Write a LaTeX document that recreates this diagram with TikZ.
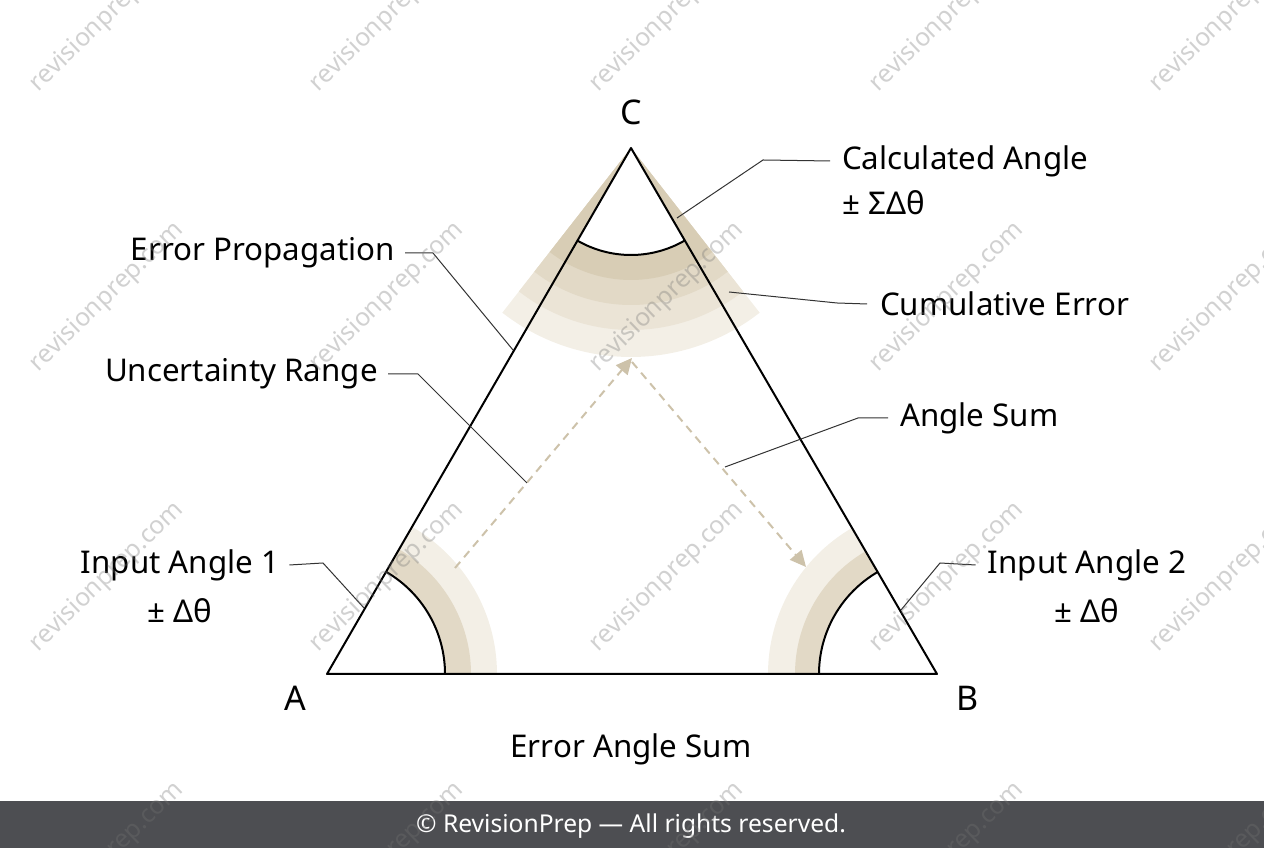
\documentclass[tikz,border=0pt]{standalone}
\usepackage{xcolor}
\usepackage{fontspec}
\setmainfont{Noto Sans}
\usetikzlibrary{shapes,arrows.meta,positioning}

\definecolor{bandA}{HTML}{F3EFE6}
\definecolor{bandB}{HTML}{EBE4D6}
\definecolor{bandC}{HTML}{E2D9C6}
\definecolor{bandD}{HTML}{D8CDB5}
\definecolor{dashtan}{HTML}{CDC2AA}
\definecolor{footgray}{HTML}{4D4E52}

\begin{document}
\begin{tikzpicture}[
    x=1pt, y=1pt,
    lbl/.style={font=\fontsize{31.3}{36}\selectfont, inner sep=0pt},
    vertex/.style={font=\fontsize{34}{40}\selectfont, inner sep=0pt},
    leader/.style={draw=black!80, line width=1pt},
    side/.style={draw=black, line width=2pt, line join=round},
    flow/.style={draw=dashtan, line width=2pt, dash pattern=on 8pt off 6pt, -{Triangle[length=16pt,width=15pt,fill=dashtan]}},
    wmark/.style={font=\fontsize{25}{30}\selectfont, text=gray!90!black, opacity=0.33, rotate=44}
]
    \useasboundingbox (0,0) rectangle (1264,848);

    % Corners
    \coordinate (A) at (327,174);
    \coordinate (B) at (937,174);
    \coordinate (C) at (631,700);

    % Cumulative error fan at C
    \fill[bandA] (C) -- ++(232:209pt) arc[start angle=232, end angle=308, radius=209pt] -- cycle;
    \fill[bandB] (C) -- ++(232:182pt) arc[start angle=232, end angle=308, radius=182pt] -- cycle;
    \fill[bandC] (C) -- ++(232:157pt) arc[start angle=232, end angle=308, radius=157pt] -- cycle;
    \fill[bandD] (C) -- ++(232:132pt) arc[start angle=232, end angle=308, radius=132pt] -- cycle;
    \fill[white] (C) -- ++(240:107pt) arc[start angle=240, end angle=300, radius=107pt] -- cycle;
    \draw[side] (C) ++(240:107pt) arc[start angle=240, end angle=300, radius=107pt];

    % Input angle bands at A and B
    \fill[bandA] (A) -- ++(0:170pt) arc[start angle=0, end angle=60, radius=170pt] -- cycle;
    \fill[bandC] (A) -- ++(0:144pt) arc[start angle=0, end angle=60, radius=144pt] -- cycle;
    \fill[white] (A) -- ++(0:118pt) arc[start angle=0, end angle=60, radius=118pt] -- cycle;
    \draw[side] (A) ++(0:118pt) arc[start angle=0, end angle=60, radius=118pt];
    \fill[bandA] (B) -- ++(120:169pt) arc[start angle=120, end angle=180, radius=169pt] -- cycle;
    \fill[bandC] (B) -- ++(120:142pt) arc[start angle=120, end angle=180, radius=142pt] -- cycle;
    \fill[white] (B) -- ++(120:118pt) arc[start angle=120, end angle=180, radius=118pt] -- cycle;
    \draw[side] (B) ++(120:118pt) arc[start angle=120, end angle=180, radius=118pt];

    % Triangle
    \draw[side] (A) -- (B) -- (C) -- cycle;

    % Flow arrows
    \coordinate (flowA) at (455,280);
    \coordinate (flowC) at (632,490);
    \coordinate (flowB) at (806,281);
    \draw[flow] (flowA) -- (flowC);
    \draw[flow] ([yshift=-4pt]flowC) -- (flowB);

    % Vertex labels
    \node[vertex] (labC) at (631,736) {C};
    \node[vertex] (labA) at (295,150) {A};
    \node[vertex] (labB) at (968,150) {B};
    \node[lbl] (errsum) at (631,99) {Error Angle Sum};

    % Side labels
    \node[lbl, anchor=west] (calc) at (842,687) {Calculated Angle};
    \node[lbl, anchor=west] (calcpm) at (842,645) {± ΣΔθ};
    \node[lbl, anchor=west] (cumul) at (880,544) {Cumulative Error};
    \node[lbl, anchor=west] (anglesum) at (900,430) {Angle Sum};
    \node[lbl, anchor=east] (errprop) at (395,595) {Error Propagation};
    \node[lbl, anchor=east] (uncert) at (378,474) {Uncertainty Range};
    \node[lbl] (inA) at (180,283) {Input Angle 1};
    \node[lbl, below=46pt of inA.center, anchor=center] (inApm) {± Δθ};
    \node[lbl] (inB) at (1087,283) {Input Angle 2};
    \node[lbl, below=46pt of inB.center, anchor=center] (inBpm) {± Δθ};

    % Leader lines
    \draw[leader] (677,630) -- (763,688) -- ([xshift=-12pt]calc.west);
    \draw[leader] (729,556) -- (837,545) -- ([xshift=-13pt]cumul.west);
    \draw[leader] (725,381) -- (858,430) -- ([xshift=-12pt]anglesum.west);
    \draw[leader] ([xshift=10pt]errprop.east) -- (433,595) -- (513,498);
    \draw[leader] ([xshift=10pt]uncert.east) -- (418,474) -- (527,365);
    \draw[leader] ([xshift=10pt]inA.east) -- (323,285) -- (364,240);
    \draw[leader] ([xshift=-12pt]inB.west) -- (940,285) -- (901,238);

    % Footer
    \fill[footgray] (0,0) rectangle (1264,47);
    \node[font=\fontsize{24.6}{28}\selectfont, text=white] (foot) at (631,22) {© RevisionPrep — All rights reserved.};

    % Watermarks
    \foreach \col in {0,...,4}
        \foreach \row in {0,...,3}
            \node[wmark] at (107+280*\col, 831-280*\row) {revisionprep.com};
\end{tikzpicture}
\end{document}
